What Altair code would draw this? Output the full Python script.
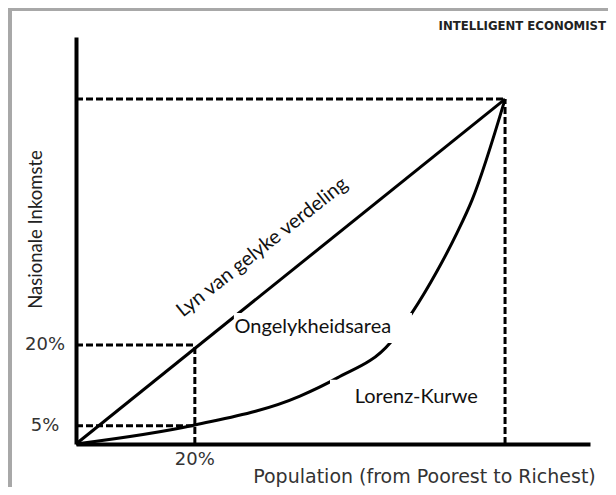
import altair as alt
import pandas as pd

# ---- data (schematic units: top-right corner = 100/100) ----
population_pct = [0, 27.7, 52.2, 60.8, 73.2, 78.3, 84.1, 88.8, 92.3, 100]
income_pct = [0, 5.5, 13.9, 19.1, 29.3, 38.0, 50.0, 61.2, 70.7, 100]
equality_x = [0, 100]
equality_y = [0, 100]

guide_x = [0, 100, 0, 27.7, 0]
guide_y = [100, 0, 28.7, 0, 5.3]
guide_x2 = [100, 100, 27.7, 27.7, 27.7]
guide_y2 = [100, 100, 28.7, 28.7, 5.3]

x_tick_values = [27.7]
x_tick_labels = ["20%"]
y_tick_values = [28.7, 5.3]
y_tick_labels = ["20%", "5%"]
y_tick_shift = [-1, -11]

annot_text = ["Ongelykheidsarea", "Lorenz-Kurwe"]
annot_x = [55.2, 79.3]
annot_y = [33.9, 13.6]
box_x = [36.8, 59.2]
box_x2 = [78.3, 96.5]
box_y = [29.3, 9.3]
box_y2 = [38.0, 18.6]

W, H = 514, 407
XDOM = [0, 119.8]
YDOM = [0, 118.0]

xs = alt.Scale(domain=XDOM, nice=False, zero=False)
ys = alt.Scale(domain=YDOM, nice=False, zero=False)

lorenz = pd.DataFrame({"x": population_pct, "y": income_pct})
equal = pd.DataFrame({"x": equality_x, "y": equality_y})
guides = pd.DataFrame({"x": guide_x, "y": guide_y, "x2": guide_x2, "y2": guide_y2})
boxes = pd.DataFrame({"x": box_x, "x2": box_x2, "y": box_y, "y2": box_y2})
annots = pd.DataFrame({"t": annot_text, "x": annot_x, "y": annot_y})
yt = pd.DataFrame({"v": y_tick_values, "t": y_tick_labels, "d": y_tick_shift})
xt = pd.DataFrame({"v": x_tick_values, "t": x_tick_labels})

AX_FONT = "DejaVu Sans"
AX_WEIGHT = "normal"
AX_COLOR = "#333"
AN_FONT = "Lato"

x_axis = alt.Axis(
    labels=False, ticks=False, grid=False, domainColor="black", domainWidth=4,
    title="Population (from Poorest to Richest)", titleFont=AX_FONT, titleFontSize=19,
    titleFontWeight=AX_WEIGHT, titleColor=AX_COLOR, titleX=348, titleY=32,
    titleBaseline="middle", titleAlign="center",
)
y_axis = alt.Axis(
    labels=False, ticks=False, grid=False, domainColor="black", domainWidth=4,
    title="Nasionale Inkomste", titleFont=AN_FONT, titleFontSize=18.5,
    titleFontWeight="normal", titleColor="#222", titleX=-41, titleY=192,
    titleAngle=270, titleBaseline="middle", titleAlign="center",
)

base_axes = alt.Chart(equal).mark_point(opacity=0).encode(
    x=alt.X("x:Q", scale=xs, axis=x_axis),
    y=alt.Y("y:Q", scale=ys, axis=y_axis),
)

guide_layer = alt.Chart(guides).mark_rule(
    color="black", strokeWidth=3, strokeDash=[7, 3]
).encode(
    x=alt.X("x:Q", scale=xs), y=alt.Y("y:Q", scale=ys), x2="x2:Q", y2="y2:Q"
)

equal_layer = alt.Chart(equal).mark_line(color="black", strokeWidth=3).encode(
    x=alt.X("x:Q", scale=xs), y=alt.Y("y:Q", scale=ys)
)

lorenz_layer = alt.Chart(lorenz).mark_line(
    color="black", strokeWidth=3, interpolate="monotone"
).encode(x=alt.X("x:Q", scale=xs), y=alt.Y("y:Q", scale=ys))

box_layer = alt.Chart(boxes).mark_rect(color="white").encode(
    x=alt.X("x:Q", scale=xs), x2="x2:Q", y=alt.Y("y:Q", scale=ys), y2="y2:Q"
)

annot_layer = alt.Chart(annots).mark_text(
    font=AN_FONT, fontSize=20, color="#111", align="center", baseline="middle"
).encode(x=alt.X("x:Q", scale=xs), y=alt.Y("y:Q", scale=ys), text="t:N")

diag_label = alt.Chart(pd.DataFrame({"t": ["Lyn van gelyke verdeling"], "x": [43.4], "y": [57.0]})).mark_text(
    font=AN_FONT, fontSize=20, color="#111", align="center", baseline="middle", angle=321.6
).encode(x=alt.X("x:Q", scale=xs), y=alt.Y("y:Q", scale=ys), text="t:N")

ytick_layer = alt.Chart(yt).mark_text(
    font=AX_FONT, fontWeight=AX_WEIGHT, fontSize=18, color=AX_COLOR, align="center", baseline="middle"
).encode(
    x=alt.value(-31), y=alt.Y("v:Q", scale=ys), yOffset=alt.YOffset("d:Q", scale=None), text="t:N"
)

xtick_layer = alt.Chart(xt).mark_text(
    font=AX_FONT, fontWeight=AX_WEIGHT, fontSize=18, color=AX_COLOR, align="center", baseline="middle"
).encode(x=alt.X("v:Q", scale=xs), y=alt.value(423), text="t:N")

brand = alt.Chart(pd.DataFrame({"t": ["INTELLIGENT ECONOMIST"]})).mark_text(
    font="DejaVu Sans Condensed, Roboto Condensed, sans-serif", fontWeight="bold", fontSize=13,
    color="#222", align="right", baseline="middle"
).encode(x=alt.value(530), y=alt.value(-11), text="t:N")

frame_left = alt.Chart(pd.DataFrame({"a": [0]})).mark_rule(color="#a8a8a8", strokeWidth=8).encode(
    x=alt.value(-68), y=alt.value(-40), y2=alt.value(H + 60)
)
frame_top = alt.Chart(pd.DataFrame({"a": [0]})).mark_rule(color="#a8a8a8", strokeWidth=6).encode(
    x=alt.value(-70), x2=alt.value(W + 40), y=alt.value(-29)
)

chart = alt.layer(
    base_axes, guide_layer, equal_layer, lorenz_layer, box_layer,
    annot_layer, diag_label, ytick_layer, xtick_layer, brand, frame_left, frame_top,
).properties(
    width=W, height=H,
    autosize=alt.AutoSizeParams(type="none"),
    padding={"left": 68, "top": 29, "right": 18, "bottom": 43},
    background="white",
).configure_view(strokeWidth=0)

chart.save("out.html", embed_options={"renderer": "svg", "actions": False})
